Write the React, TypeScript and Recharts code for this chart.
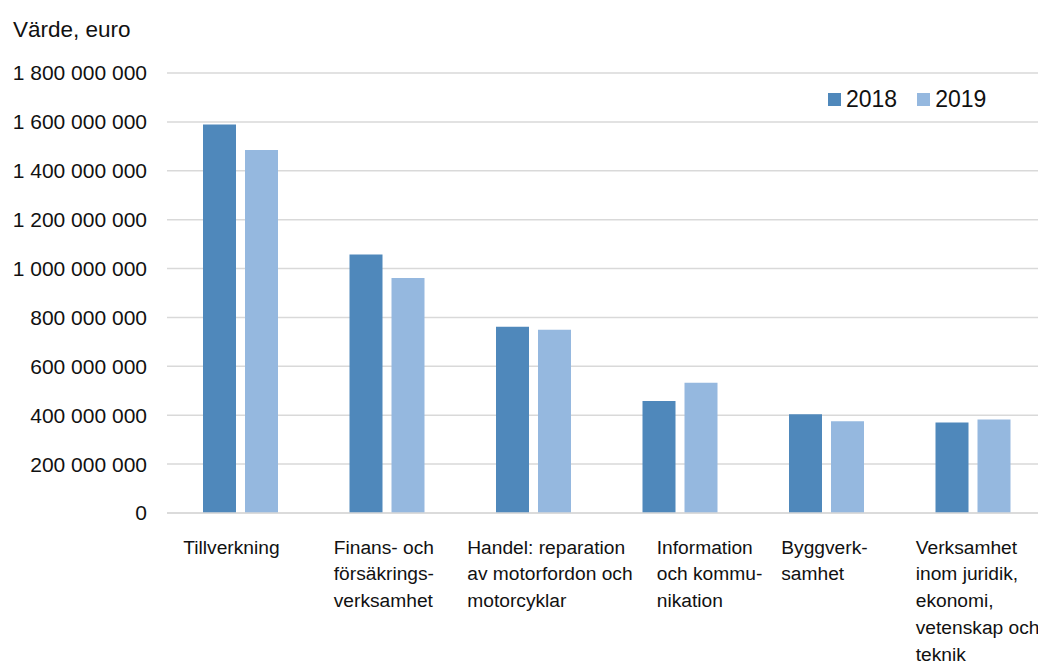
import { BarChart, Bar, XAxis, YAxis, CartesianGrid, Legend } from "recharts";

const categories = [
  "Tillverkning",
  "Finans- och försäkringsverksamhet",
  "Handel: reparation av motorfordon och motorcyklar",
  "Information och kommunikation",
  "Byggverksamhet",
  "Verksamhet inom juridik, ekonomi, vetenskap och teknik",
];

// wrapped tick labels as in the original
const categoryLines = [
  ["Tillverkning"],
  ["Finans- och", "försäkrings-", "verksamhet"],
  ["Handel: reparation", "av motorfordon och", "motorcyklar"],
  ["Information", "och kommu-", "nikation"],
  ["Byggverk-", "samhet"],
  ["Verksamhet", "inom juridik,", "ekonomi,", "vetenskap och", "teknik"],
];

const values2018 = [1589000000, 1057000000, 762000000, 458000000, 404000000, 370000000];
const values2019 = [1485000000, 961000000, 750000000, 533000000, 375000000, 382000000];

const yTicks = [0, 200000000, 400000000, 600000000, 800000000, 1000000000, 1200000000, 1400000000, 1600000000, 1800000000];

const data = categories.map((name, i) => ({
  name,
  y2018: values2018[i],
  y2019: values2019[i],
}));

const FONT = "'Liberation Sans', Arial, sans-serif";
const COLOR_2018 = "#4f88bb";
const COLOR_2019 = "#95b8df";
const GRID = "#d9d9d9";

// left edge of each label block relative to the category centre
const labelShift = [-57, -53, -66, -23, -45, -57];

const fmt = (v: number) => String(v).replace(/\B(?=(\d{3})+(?!\d))/g, " ");

const CategoryTick = (props: any) => {
  const { x, y, payload } = props;
  const idx = categories.indexOf(payload.value);
  const lines = categoryLines[idx] || [payload.value];
  const left = x + (labelShift[idx] || 0);
  return (
    <text x={left} y={y + 40.5} fill="#111" fontSize={19.2} fontFamily={FONT} textAnchor="start">
      {lines.map((l: string, i: number) => (
        <tspan key={i} x={left} dy={i === 0 ? 0 : 26.8}>
          {l}
        </tspan>
      ))}
    </text>
  );
};

const LegendBox = (props: any) => {
  const { payload } = props;
  return (
    <div style={{ display: "flex", alignItems: "center", fontFamily: FONT, fontSize: 23, lineHeight: 1, color: "#111" }}>
      {payload.map((p: any, i: number) => (
        <div key={i} style={{ display: "flex", alignItems: "center", marginRight: i === 0 ? 20 : 0 }}>
          <span style={{ width: 13, height: 13, background: p.color, display: "inline-block", marginRight: 5 }} />
          <span>{p.value}</span>
        </div>
      ))}
    </div>
  );
};

export default function App() {
  return (
    <div style={{ position: "relative", width: 1038, height: 658, fontFamily: FONT }}>
      <style>{"html,body{overflow:hidden}"}</style>
      <div
        style={{
          position: "absolute",
          left: 5,
          top: 11,
          fontSize: 22.5,
          lineHeight: 1,
          color: "#111",
          fontFamily: FONT,
        }}
      >
        Värde, euro
      </div>
      <BarChart
        width={1038}
        height={658}
        data={data}
        margin={{ top: 65, right: 0, left: 0, bottom: 3 }}
        barSize={33}
        barGap={9}
      >
        <CartesianGrid vertical={false} stroke={GRID} strokeWidth={1.5} />
        <XAxis
          dataKey="name"
          height={150}
          interval={0}
          tickLine={false}
          tickSize={0}
          tickMargin={0}
          axisLine={{ stroke: GRID, strokeWidth: 1.5 }}
          tick={<CategoryTick />}
        />
        <YAxis
          width={159}
          domain={[0, 1800000000]}
          ticks={yTicks}
          interval={0}
          tickFormatter={fmt}
          axisLine={false}
          tickLine={false}
          tickSize={0}
          tickMargin={20}
          tick={{ fill: "#111", fontSize: 21, fontFamily: FONT }}
        />
        <Legend
          layout="horizontal"
          verticalAlign="middle"
          align="center"
          content={<LegendBox />}
          wrapperStyle={{ position: "absolute", top: 80, left: 820, width: "auto" }}
        />
        <Bar dataKey="y2018" name="2018" fill={COLOR_2018} isAnimationActive={false} />
        <Bar dataKey="y2019" name="2019" fill={COLOR_2019} isAnimationActive={false} />
      </BarChart>
    </div>
  );
}
